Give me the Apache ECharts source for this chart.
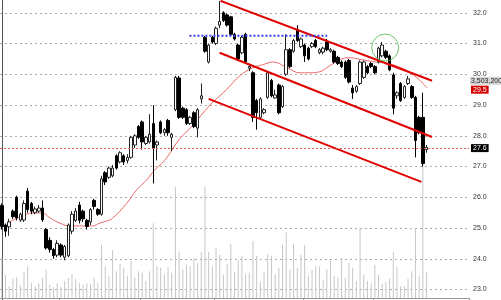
<!DOCTYPE html>
<html><head><meta charset="utf-8">
<script src="https://cdn.jsdelivr.net/npm/echarts@6.0.0/dist/echarts.min.js"></script>
<style>html,body{margin:0;padding:0;background:#fff}#c{width:501px;height:300px}</style>
</head><body><div id="c"></div>
<script>
const opens = [
25.73,25.10,25.04,25.55,26.00,25.26,25.26,26.20,25.80,25.50,
25.55,25.65,24.95,24.60,24.30,24.12,24.45,24.05,24.10,24.90,
25.25,25.75,25.55,25.25,25.20,25.90,25.60,25.45,26.80,26.65,
26.70,27.35,27.15,27.35,27.20,27.30,27.70,28.30,28.45,27.75,
27.80,28.40,27.70,28.45,28.10,28.50,27.95,28.85,29.88,28.90,
28.85,28.40,28.75,28.25,29.20,31.20,30.40,31.20,31.00,31.60,
32.00,31.93,31.87,31.30,30.95,30.70,31.30,30.20,30.05,29.15,
28.60,28.75,29.25,29.80,29.23,29.65,28.95,30.00,30.80,30.75,
31.45,30.90,30.95,30.85,30.90,31.10,30.70,30.72,31.05,30.75,
30.75,30.55,30.40,30.40,30.45,29.55,29.45,29.70,29.90,30.25,
30.35,30.25,30.40,30.60,30.75,30.60,29.98,29.30,29.70,29.25,
29.70,29.60,29.25,28.60,28.60,27.55];
const closes = [
25.05,24.90,25.20,25.37,25.33,25.45,25.80,25.60,25.55,25.62,
25.65,25.27,24.35,24.30,24.10,24.50,24.12,24.40,25.10,25.45,
25.55,25.25,25.30,25.05,25.60,25.70,25.45,26.60,26.50,26.95,
26.95,26.95,27.45,27.15,27.30,27.95,28.00,27.95,27.80,27.95,
28.05,27.60,27.80,28.10,28.20,28.10,28.05,29.90,28.60,28.60,
28.40,28.60,28.30,28.85,29.30,30.75,30.95,31.05,31.50,31.72,
31.75,31.60,31.30,31.15,30.50,31.20,30.40,30.25,28.60,28.75,
29.20,28.85,30.05,29.30,29.33,28.75,29.60,30.80,30.25,31.10,
31.10,31.15,30.60,30.50,31.00,30.90,30.80,30.85,30.80,30.80,
30.40,30.35,30.25,29.90,29.75,29.40,29.60,30.40,30.40,30.05,
30.25,30.05,30.85,30.95,30.55,30.15,28.90,29.40,29.15,29.60,
29.85,29.25,27.85,28.10,27.10,27.62];
const lows = [
24.95,24.72,24.75,25.30,25.25,25.20,25.20,25.50,25.45,25.45,
25.50,25.20,24.30,24.20,24.00,24.05,24.05,23.95,24.05,24.80,
25.20,25.15,25.20,24.95,25.10,25.60,25.40,25.40,26.40,26.60,
26.65,26.90,27.10,27.05,27.10,27.25,27.60,27.90,27.55,27.70,
27.75,26.45,27.20,28.05,28.00,28.00,27.50,28.80,28.55,28.55,
28.35,28.35,28.25,27.95,29.05,30.70,30.35,31.00,30.95,31.50,
31.70,31.55,31.25,31.10,30.45,30.65,30.35,30.10,28.45,28.20,
28.55,28.70,29.20,29.25,29.20,28.70,28.90,29.95,30.20,30.70,
31.05,30.85,30.40,30.45,30.85,30.85,30.65,30.65,30.75,30.70,
30.35,30.30,30.20,29.85,29.70,29.20,29.40,29.65,29.85,30.00,
30.20,30.00,30.35,30.55,30.50,30.10,28.70,29.20,29.10,29.20,
29.65,29.20,27.30,28.05,27.00,27.45];
const highs = [
25.80,25.15,25.30,25.60,26.05,25.50,25.90,26.30,25.85,25.70,
25.75,25.90,25.00,24.70,24.35,24.60,24.50,24.45,25.15,25.55,
25.65,25.85,25.60,25.30,25.65,25.95,25.65,26.70,26.85,27.00,
27.05,27.40,27.50,27.40,27.40,28.00,28.05,28.35,28.50,28.00,
28.70,29.00,27.85,28.50,28.25,28.55,28.10,29.95,29.95,28.95,
28.90,28.65,28.80,28.90,29.70,31.25,31.00,31.25,31.55,32.38,
32.05,31.98,31.90,31.35,31.00,31.25,31.35,30.35,30.10,29.20,
29.25,28.90,30.10,29.85,29.50,29.70,29.65,31.30,30.85,31.15,
31.60,31.20,31.00,30.90,31.05,31.15,30.85,30.90,31.15,30.85,
30.80,30.60,30.45,30.45,30.50,29.65,29.65,30.45,30.45,30.30,
30.40,30.30,30.90,31.05,30.80,30.65,30.05,29.45,29.75,29.65,
29.95,29.65,29.30,28.65,29.40,27.70];
// volume in millions of shares
const volumes = [
5.4,3.1,1.6,2.6,2.8,1.8,3.5,4.3,2.0,1.6,
2.0,2.7,3.8,1.8,1.5,2.0,1.5,2.3,2.7,3.2,
2.6,2.0,1.8,2.0,1.9,2.7,2.0,7.2,4.3,3.0,
6.5,3.6,4.6,4.1,3.0,5.0,2.8,3.6,3.4,2.3,
3.6,10.1,4.3,4.1,3.2,4.2,3.4,15.0,6.3,3.9,
4.5,4.3,5.4,4.7,6.2,15.0,6.2,4.2,6.8,5.8,
3.1,4.6,7.3,3.5,5.1,5.7,3.2,3.4,7.7,5.7,
2.2,3.5,5.9,5.7,3.2,4.1,7.2,8.9,3.8,7.3,
4.1,5.8,7.2,3.0,3.8,4.3,4.3,2.4,3.9,5.1,
3.0,2.8,5.4,2.7,4.7,4.1,2.3,9.5,3.1,2.3,
2.0,4.5,3.1,1.9,2.2,2.6,6.2,4.2,1.6,1.6,
2.6,3.6,9.5,3.0,18.2,3.5];
// moving average, [bar position, price]
const movingAverage = [[2,25.2],[4.9,25.36],[8.4,25.49],[10.9,25.49],[13,25.33],[15.7,25.16],[18.4,25.07],[21.9,25.07],[24.6,25.07],[26.5,25.16],[28.4,25.23],[30,25.32],[33.8,25.8],[36.5,26.24],[39.2,26.56],[41.4,26.89],[44.1,27.2],[48.1,27.89],[51.7,28.34],[56.3,28.99],[60.9,29.51],[64.4,29.95],[67.9,30.21],[70.6,30.31],[73.5,30.4],[77.3,30.21],[80.6,30.05],[83.3,30.05],[86,30.08],[88.7,30.27],[91.4,30.47],[94.1,30.54],[97.6,30.47],[101.4,30.4],[104.1,30.37],[107.6,30.24],[110.3,30.08],[113,29.82],[115.2,29.56]];
const channelUpper = [[59.2,32.39],[116.5,29.79]];
const channelMiddle = [[58.96,30.70],[116.5,27.96]];
const channelLower = [[56.0,29.20],[113.6,26.50]];
const resistanceLine = [[50.8,31.25],[88.1,31.25]];
const circleMark = [[103.8,30.87]];
const lastClose = 27.6;
const maLast = 29.5;
const volumeLabelLevel = 29.79;
const volumeLabel = '3,503,200';
const monthTickIdx = [16,38,58,82,101];
const SLOTS = 127;

const cats = Array.from({length: SLOTS}, (_, i) => String(i));
const candleData = opens.map((o, i) => [o, closes[i], lows[i], highs[i]]);
const FONT = 'Liberation Sans';

const chart = echarts.init(document.getElementById('c'), null, {renderer: 'canvas'});
chart.setOption({
  animation: false,
  backgroundColor: '#fff',
  grid: [
    {left: 0, right: 32, top: -17.95, height: 338.25, outerBoundsMode: 'none', containLabel: false},
    {left: 0, right: 32, top: 150, height: 148, outerBoundsMode: 'none', containLabel: false}
  ],
  xAxis: [
    {type: 'category', gridIndex: 0, data: cats, boundaryGap: true, show: false},
    {type: 'value', gridIndex: 0, min: -0.5, max: SLOTS - 0.5, show: false},
    {type: 'category', gridIndex: 1, data: cats, boundaryGap: true,
     axisLine: {show: true, lineStyle: {color: '#999'}},
     axisTick: {show: true, length: 2, interval: (i) => monthTickIdx.includes(i), lineStyle: {color: '#999'}},
     axisLabel: {show: false}, splitLine: {show: false}}
  ],
  yAxis: [
    {type: 'value', gridIndex: 0, position: 'right', min: 22, max: 33, interval: 1,
     axisLine: {show: true, lineStyle: {color: '#555'}},
     axisTick: {show: false},
     axisLabel: {fontSize: 7, color: '#333', margin: 4, fontFamily: FONT, formatter: v => v.toFixed(1)},
     splitLine: {show: true, lineStyle: {color: '#aaa', type: [2, 3], width: 1}}},
    {type: 'value', gridIndex: 1, min: 0, max: 20, show: false, splitLine: {show: false}}
  ],
  series: [
    {type: 'bar', xAxisIndex: 2, yAxisIndex: 1, data: volumes, barWidth: 1,
     itemStyle: {color: '#c6c6c6'}, silent: true},
    {type: 'line', xAxisIndex: 1, yAxisIndex: 0, data: movingAverage, smooth: 0.4,
     symbol: 'none', lineStyle: {color: '#ec6a6a', width: 1}, z: 2,
     markLine: {symbol: 'none', silent: true, animation: false,
       data: [
         {yAxis: maLast, lineStyle: {color: 'rgba(0,0,0,0)', width: 0},
          label: {show: true, position: 'end', distance: 2, formatter: maLast.toFixed(1),
                  backgroundColor: '#d40000', color: '#fff', fontSize: 7, fontFamily: FONT, padding: [1, 2, 0, 2]}},
         {yAxis: volumeLabelLevel, lineStyle: {color: 'rgba(0,0,0,0)', width: 0},
          label: {show: true, position: 'end', distance: 1, formatter: volumeLabel,
                  backgroundColor: '#d6d6d6', color: '#222', fontSize: 7, fontFamily: FONT, padding: [1, 1, 0, 1]}}
       ]}},
    {type: 'candlestick', xAxisIndex: 0, yAxisIndex: 0, data: candleData, barWidth: 3, z: 3,
     itemStyle: {color: '#fff', color0: '#000', borderColor: '#222', borderColor0: '#000', borderWidth: 1},
     markLine: {symbol: 'none', silent: true, animation: false,
       data: [{yAxis: lastClose, lineStyle: {color: '#e05a5a', type: [2, 2], width: 1},
         label: {show: true, position: 'end', distance: 2, formatter: lastClose.toFixed(1),
                 backgroundColor: '#000', color: '#fff', fontSize: 7, fontFamily: FONT, padding: [1, 2, 0, 2]}}]}},
    {type: 'line', xAxisIndex: 1, yAxisIndex: 0, data: channelUpper, symbol: 'none', z: 4,
     lineStyle: {color: '#e00000', width: 2}},
    {type: 'line', xAxisIndex: 1, yAxisIndex: 0, data: channelMiddle, symbol: 'none', z: 4,
     lineStyle: {color: '#e00000', width: 2}},
    {type: 'line', xAxisIndex: 1, yAxisIndex: 0, data: channelLower, symbol: 'none', z: 4,
     lineStyle: {color: '#e00000', width: 2}},
    {type: 'line', xAxisIndex: 1, yAxisIndex: 0, data: resistanceLine, symbol: 'none', z: 4,
     lineStyle: {color: '#3a3ae8', width: 2, type: [2, 2]}},
    {type: 'scatter', xAxisIndex: 1, yAxisIndex: 0, data: circleMark, symbol: 'circle', symbolSize: 27, z: 5,
     itemStyle: {color: 'rgba(0,0,0,0)', borderColor: '#4db34d', borderWidth: 1}, silent: true}
  ]
});
</script>
</body></html>
